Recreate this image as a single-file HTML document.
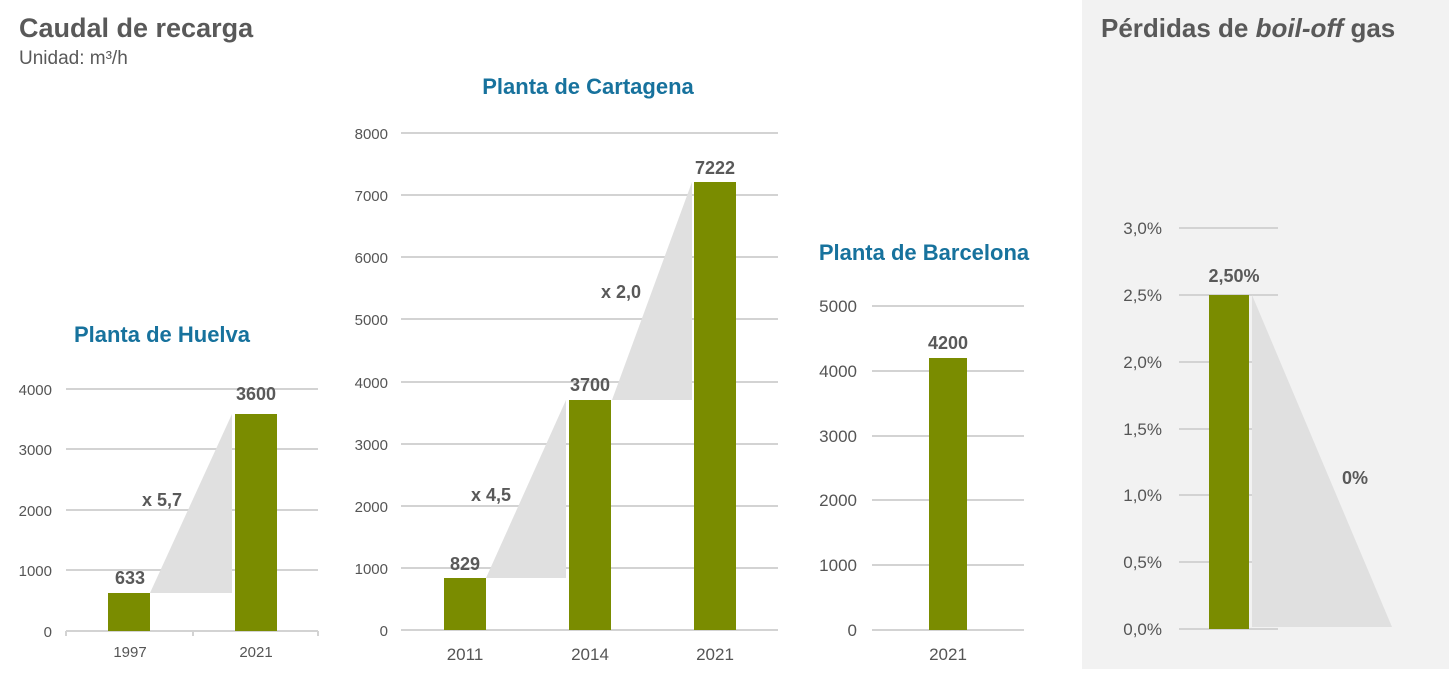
<!DOCTYPE html>
<html><head><meta charset="utf-8"><style>
html,body{margin:0;padding:0;background:#fff}
svg{display:block}
text{font-family:"Liberation Sans",sans-serif}
.t{fill:#555;font-size:15px}
.b{fill:#595959;font-size:18px;font-weight:bold}
.p{fill:#17729d;font-size:22px;font-weight:bold}
.g{stroke:#d3d3d3;stroke-width:2}
</style></head><body>
<svg width="1449" height="678" viewBox="0 0 1449 678">
<rect x="1082" y="0" width="367" height="669" fill="#f2f2f2"/>
<text x="19" y="37" fill="#595959" font-size="27" font-weight="bold">Caudal de recarga</text>
<text x="19" y="64" fill="#595959" font-size="19">Unidad: m³/h</text>
<text x="1101" y="37" fill="#595959" font-size="26" font-weight="bold">Pérdidas de <tspan font-style="italic">boil-off</tspan> gas</text>

<!-- Huelva -->
<text x="162" y="342" class="p" text-anchor="middle">Planta de Huelva</text>
<g class="g"><line x1="66" x2="318" y1="389" y2="389"/><line x1="66" x2="318" y1="449" y2="449"/><line x1="66" x2="318" y1="510" y2="510"/><line x1="66" x2="318" y1="570" y2="570"/><line x1="66" x2="318" y1="631" y2="631"/>
<line x1="66" x2="66" y1="631" y2="636"/><line x1="193" x2="193" y1="631" y2="636"/><line x1="318" x2="318" y1="631" y2="636"/></g>
<g class="t" text-anchor="end"><text x="52" y="395">4000</text><text x="52" y="455">3000</text><text x="52" y="516">2000</text><text x="52" y="576">1000</text><text x="52" y="637">0</text></g>
<polygon points="150,593 232,414 232,593" fill="#e0e0e0"/>
<rect x="108" y="593" width="42" height="38" fill="#7a8c00"/>
<rect x="235" y="414" width="42" height="217" fill="#7a8c00"/>
<text x="130" y="584" class="b" text-anchor="middle">633</text>
<text x="256" y="400" class="b" text-anchor="middle">3600</text>
<text x="162" y="506" class="b" text-anchor="middle">x 5,7</text>
<g class="t" text-anchor="middle"><text x="130" y="657">1997</text><text x="256" y="657">2021</text></g>

<!-- Cartagena -->
<text x="588" y="94" class="p" text-anchor="middle">Planta de Cartagena</text>
<g class="g"><line x1="401" x2="778" y1="133" y2="133"/><line x1="401" x2="778" y1="195" y2="195"/><line x1="401" x2="778" y1="257" y2="257"/><line x1="401" x2="778" y1="319" y2="319"/><line x1="401" x2="778" y1="382" y2="382"/><line x1="401" x2="778" y1="444" y2="444"/><line x1="401" x2="778" y1="506" y2="506"/><line x1="401" x2="778" y1="568" y2="568"/><line x1="401" x2="778" y1="630" y2="630"/></g>
<g class="t" text-anchor="end"><text x="388" y="139">8000</text><text x="388" y="201">7000</text><text x="388" y="263">6000</text><text x="388" y="325">5000</text><text x="388" y="388">4000</text><text x="388" y="450">3000</text><text x="388" y="512">2000</text><text x="388" y="574">1000</text><text x="388" y="636">0</text></g>
<polygon points="486,578 566,400 566,578" fill="#e0e0e0"/>
<polygon points="612,400 692,182 692,400" fill="#e0e0e0"/>
<rect x="444" y="578" width="42" height="52" fill="#7a8c00"/>
<rect x="569" y="400" width="42" height="230" fill="#7a8c00"/>
<rect x="694" y="182" width="42" height="448" fill="#7a8c00"/>
<text x="465" y="570" class="b" text-anchor="middle">829</text>
<text x="590" y="391" class="b" text-anchor="middle">3700</text>
<text x="715" y="174" class="b" text-anchor="middle">7222</text>
<text x="491" y="501" class="b" text-anchor="middle">x 4,5</text>
<text x="621" y="298" class="b" text-anchor="middle">x 2,0</text>
<g class="t" text-anchor="middle" style="font-size:17px"><text x="465" y="660">2011</text><text x="590" y="660">2014</text><text x="715" y="660">2021</text></g>

<!-- Barcelona -->
<text x="924" y="260" class="p" text-anchor="middle">Planta de Barcelona</text>
<g class="g"><line x1="872" x2="1024" y1="306" y2="306"/><line x1="872" x2="1024" y1="371" y2="371"/><line x1="872" x2="1024" y1="436" y2="436"/><line x1="872" x2="1024" y1="500" y2="500"/><line x1="872" x2="1024" y1="565" y2="565"/><line x1="872" x2="1024" y1="630" y2="630"/></g>
<g class="t" text-anchor="end" style="font-size:17px"><text x="857" y="312">5000</text><text x="857" y="377">4000</text><text x="857" y="442">3000</text><text x="857" y="506">2000</text><text x="857" y="571">1000</text><text x="857" y="636">0</text></g>
<rect x="929" y="358" width="38" height="272" fill="#7a8c00"/>
<text x="948" y="349" class="b" text-anchor="middle">4200</text>
<text x="948" y="660" class="t" text-anchor="middle" style="font-size:17px">2021</text>

<!-- Boil-off -->
<g class="g"><line x1="1179" x2="1278" y1="228" y2="228"/><line x1="1179" x2="1278" y1="295" y2="295"/><line x1="1179" x2="1278" y1="362" y2="362"/><line x1="1179" x2="1278" y1="429" y2="429"/><line x1="1179" x2="1278" y1="495" y2="495"/><line x1="1179" x2="1278" y1="562" y2="562"/><line x1="1179" x2="1278" y1="629" y2="629"/></g>
<g class="t" text-anchor="end" style="font-size:17px"><text x="1162" y="234">3,0%</text><text x="1162" y="301">2,5%</text><text x="1162" y="368">2,0%</text><text x="1162" y="435">1,5%</text><text x="1162" y="501">1,0%</text><text x="1162" y="568">0,5%</text><text x="1162" y="635">0,0%</text></g>
<polygon points="1252,295 1392,627 1252,627" fill="#e0e0e0"/>
<rect x="1209" y="295" width="40" height="334" fill="#7a8c00"/>
<text x="1234" y="282" class="b" text-anchor="middle">2,50%</text>
<text x="1355" y="484" class="b" text-anchor="middle">0%</text>
</svg>
</body></html>
